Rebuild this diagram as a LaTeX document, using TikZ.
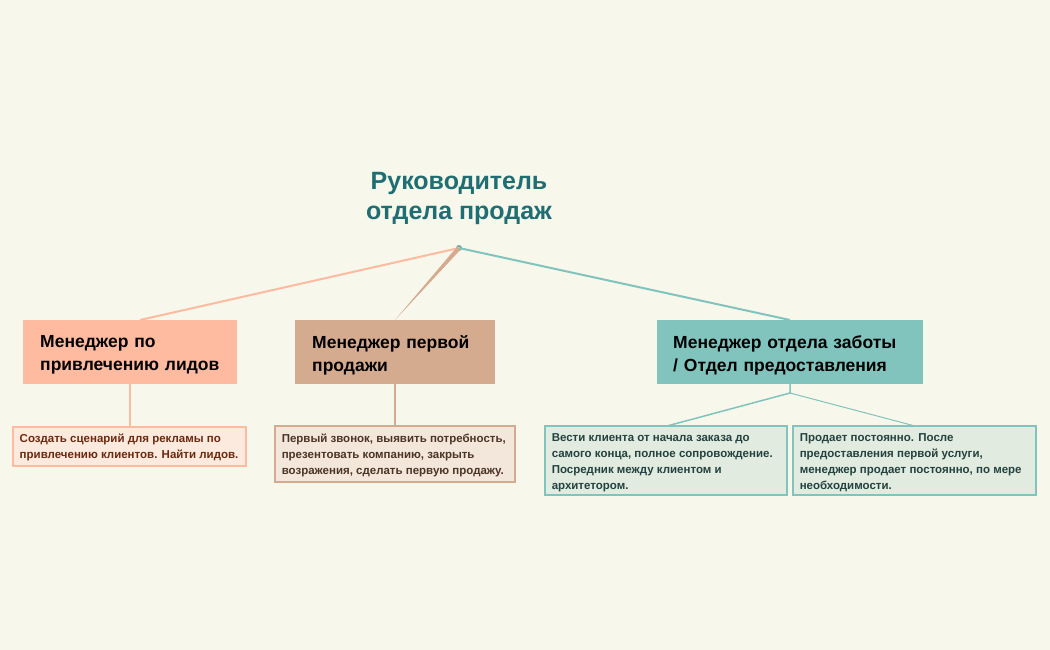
\documentclass[tikz,border=0pt]{standalone}
\usepackage{fontspec}
\setmainfont{Liberation Sans}
\usetikzlibrary{calc}
\definecolor{bg}{HTML}{F8F7EC}
\definecolor{cA}{HTML}{FFBBA0}
\definecolor{cB}{HTML}{D5AB8F}
\definecolor{cC}{HTML}{80C4BD}
\definecolor{tt}{HTML}{1E6E72}
\definecolor{sA}{HTML}{FBEADD}
\definecolor{sB}{HTML}{F3E6DA}
\definecolor{sC}{HTML}{E1EBE0}
\definecolor{tA}{HTML}{6B2A10}
\definecolor{tB}{HTML}{4B3526}
\definecolor{tC}{HTML}{24423F}
\begin{document}
\begin{tikzpicture}[x=1pt,y=-1pt,
 mainbox/.style={anchor=north west,inner sep=0pt,text width=#1,align=left,font=\fontsize{17.5}{23}\selectfont\bfseries},
 subbox/.style={draw,line width=1.5pt,anchor=north west,inner xsep=6pt,inner ysep=0pt,align=left,font=\fontsize{11.5}{16}\selectfont\bfseries},
 link/.style={line width=2pt}]
\fill[bg] (0,0) rectangle (1050,650);
\useasboundingbox (0,0) rectangle (1050,650);
\node[font=\fontsize{25}{30}\selectfont\bfseries,text=tt,align=center] (root) at (459,198) {Руководитель\\отдела продаж};
\coordinate (rp) at (459,248);
\fill[tt!60] (rp) circle (3);
% main boxes
\fill[cA] (23,320) rectangle (237,384);
\fill[cB] (295,320) rectangle (495,384);
\fill[cC] (657,320) rectangle (923,384);
\node[mainbox=195pt] (b1) at (40,335) {Менеджер по\\привлечению лидов};
\node[mainbox=180pt] (b2) at (312,335) {Менеджер первой\\продажи};
\node[mainbox=245pt] (b3) at (673,335) {Менеджер отдела заботы\\/ Отдел предоставления};
\coordinate (t1) at (140,320); \coordinate (t2) at (395,320); \coordinate (t3) at (790,320);
\draw[link,cA] (rp) -- (t1);
\fill[cB] ($(rp)+(-3,0)$) -- (t2) -- ($(rp)+(3,0)$) -- cycle;
\draw[link,cC] (rp) -- (t3);
% sub boxes
\draw[subbox,cA,fill=sA] (13,427) rectangle (246,466);
\draw[subbox,cB,fill=sB] (275,426) rectangle (515,482);
\draw[subbox,cC,fill=sC] (545,426) rectangle (787,495);
\draw[subbox,cC,fill=sC] (793,426) rectangle (1036,495);
\node[subbox,draw=none,text=tA] (s1) at (13,433) {Создать сценарий для рекламы по\\привлечению клиентов. Найти лидов.};
\node[subbox,draw=none,text=tB] (s2) at (275,433) {Первый звонок, выявить потребность,\\презентовать компанию, закрыть\\возражения, сделать первую продажу.};
\node[subbox,draw=none,text=tC] (s3) at (545,433) {Вести клиента от начала заказа до\\самого конца, полное сопровождение.\\Посредник между клиентом и\\архитетором.};
\node[subbox,draw=none,text=tC] (s4) at (793,433) {Продает постоянно. После\\предоставления первой услуги,\\менеджер продает постоянно, по мере\\необходимости.};
\draw[cA,line width=1.5pt] (130,384) -- (130,427);
\draw[cB,line width=1.5pt] (395,384) -- (395,426);
\coordinate (j) at (790,393);
\draw[cC,line width=1.5pt] (790,384) -- (j) -- (667,426);
\draw[cC,line width=1pt] (j) -- (915,426);
\end{tikzpicture}
\end{document}
